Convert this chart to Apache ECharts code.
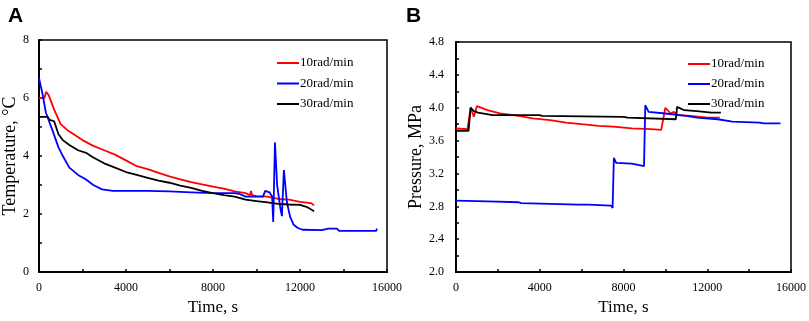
<!DOCTYPE html>
<html>
<head>
<meta charset="utf-8">
<script src="https://cdn.jsdelivr.net/npm/echarts@6/dist/echarts.min.js"></script>
<style>
	body { margin: 0; background: #fff; }
	#chart { width: 809px; height: 321px; }
</style>
</head>
<body>
<div id="chart"></div>
<script>
// panel A - temperature
var aRedTime  = [0, 250, 330, 450, 700, 1000, 1300, 1600, 2000, 2500, 3000, 3500, 4000, 4500, 5000, 5500, 6000, 6500, 7000, 7500, 8000, 8500, 9000, 9500, 9700, 9750, 9800, 10000, 10500, 11000, 11500, 12000, 12500, 12650];
var aRedTemp  = [6.0, 6.0, 6.21, 6.1, 5.6, 5.1, 4.9, 4.75, 4.55, 4.35, 4.2, 4.05, 3.85, 3.65, 3.55, 3.42, 3.3, 3.2, 3.1, 3.02, 2.95, 2.88, 2.78, 2.72, 2.65, 2.8, 2.65, 2.62, 2.6, 2.52, 2.5, 2.42, 2.38, 2.3];
var aBlueTime = [0, 150, 320, 640, 900, 1100, 1400, 1800, 2150, 2500, 2900, 3400, 5000, 6000, 7000, 8000, 9000, 9200, 9500, 10000, 10300, 10400, 10600, 10720, 10770, 10850, 10950, 11100, 11170, 11260, 11400, 11550, 11710, 11900, 12120, 13000, 13300, 13700, 13800, 15500, 15540];
var aBlueTemp = [6.7, 6.2, 5.5, 4.85, 4.3, 4.0, 3.6, 3.35, 3.2, 3.0, 2.85, 2.8, 2.8, 2.78, 2.75, 2.72, 2.72, 2.7, 2.6, 2.6, 2.6, 2.8, 2.75, 2.6, 1.73, 4.47, 3.0, 2.2, 1.93, 3.52, 2.4, 1.9, 1.63, 1.52, 1.46, 1.45, 1.5, 1.5, 1.42, 1.42, 1.5];
var aBlackTime = [0, 400, 500, 700, 900, 1100, 1400, 1800, 2200, 2500, 3000, 3500, 4000, 4500, 5000, 5500, 6000, 6500, 7000, 7500, 8000, 8500, 9000, 9500, 10000, 10500, 11000, 11500, 12000, 12300, 12650];
var aBlackTemp = [5.35, 5.35, 5.25, 5.2, 4.75, 4.55, 4.38, 4.2, 4.1, 3.95, 3.75, 3.6, 3.45, 3.35, 3.25, 3.15, 3.08, 2.98, 2.9, 2.8, 2.72, 2.65, 2.6, 2.5, 2.45, 2.4, 2.35, 2.33, 2.32, 2.25, 2.1];

// panel B - pressure
var bRedTime  = [0, 550, 700, 850, 1000, 1500, 2100, 3000, 3650, 4500, 5250, 6000, 6800, 7500, 8400, 9300, 9800, 10000, 10250, 10400, 10600, 11200, 12000, 12600];
var bRedPres  = [3.75, 3.74, 4.0, 3.89, 4.02, 3.97, 3.93, 3.9, 3.87, 3.85, 3.82, 3.8, 3.78, 3.77, 3.75, 3.74, 3.73, 4.0, 3.93, 3.95, 3.91, 3.9, 3.88, 3.88];
var bBlueTime = [0, 1500, 3000, 3100, 4500, 5800, 6300, 7400, 7480, 7540, 7650, 8400, 8450, 8980, 9040, 9200, 10000, 11000, 11500, 12500, 13200, 14500, 14700, 15500];
var bBluePres = [2.87, 2.86, 2.85, 2.84, 2.83, 2.82, 2.82, 2.81, 2.78, 3.39, 3.33, 3.32, 3.3, 3.29, 4.03, 3.95, 3.93, 3.9, 3.88, 3.86, 3.83, 3.82, 3.81, 3.81];
var bBlackTime = [0, 600, 700, 850, 1050, 1750, 4000, 4100, 8000, 8200, 10500, 10560, 10900, 11500, 12200, 12650];
var bBlackPres = [3.72, 3.72, 4.0, 3.96, 3.94, 3.91, 3.91, 3.9, 3.89, 3.88, 3.86, 4.01, 3.97, 3.96, 3.94, 3.94];

var seriesNames = ['10rad/min', '20rad/min', '30rad/min'];
var seriesColors = ['#ff0000', '#0000ff', '#000000'];
var xTicks = [0, 4000, 8000, 12000, 16000];

var serif = 'Liberation Serif';

function zip(xs, ys) {
	var out = [];
	for (var i = 0; i < xs.length; i++) out.push([xs[i], ys[i]]);
	return out;
}

function mkLine(name, color, idx, data) {
	return {
		name: name,
		type: 'line',
		xAxisIndex: idx,
		yAxisIndex: idx,
		data: data,
		showSymbol: false,
		lineStyle: { color: color, width: 1.8 },
		itemStyle: { color: color },
		animation: false
	};
}

function mkXAxis(idx) {
	return {
		type: 'value',
		gridIndex: idx,
		min: 0,
		max: 16000,
		interval: 2000,
		name: 'Time, s',
		nameLocation: 'middle',
		nameGap: 24,
		nameTextStyle: { fontFamily: serif, fontSize: 17, color: '#000' },
		axisLine: { lineStyle: { color: '#000', width: 2 } },
		axisTick: { inside: true, length: 3, lineStyle: { color: '#000', width: 1.5 } },
		axisLabel: {
			fontFamily: serif, fontSize: 12, color: '#000', margin: 10,
			formatter: function (v) { return xTicks.indexOf(v) >= 0 ? String(v) : ''; }
		},
		splitLine: { show: false }
	};
}

var option = {
	backgroundColor: '#fff',
	title: [
		{ text: 'A', left: 3, top: 1, textStyle: { fontFamily: 'Liberation Sans', fontWeight: 'bold', fontSize: 21, color: '#000' } },
		{ text: 'B', left: 401, top: 1, textStyle: { fontFamily: 'Liberation Sans', fontWeight: 'bold', fontSize: 21, color: '#000' } }
	],
	grid: [
		{ left: 36, top: 40, width: 351, height: 236, show: true, borderColor: '#000', borderWidth: 1.5 },
		{ left: 456, top: 42, width: 338, height: 234, show: true, borderColor: '#000', borderWidth: 1.5 }
	],
	legend: [
		{
			data: seriesNames, orient: 'vertical', left: 272, top: 51,
			icon: 'rect', itemWidth: 22, itemHeight: 2, itemGap: 6.5,
			textStyle: { fontFamily: serif, fontSize: 13, color: '#000', lineHeight: 14, padding: [0, 0, 0, -4] }
		},
		{
			data: seriesNames, orient: 'vertical', left: 683, top: 52,
			icon: 'rect', itemWidth: 22, itemHeight: 2, itemGap: 6,
			textStyle: { fontFamily: serif, fontSize: 13, color: '#000', lineHeight: 14, padding: [0, 0, 0, -4] }
		}
	],
	xAxis: [mkXAxis(0), mkXAxis(1)],
	yAxis: [
		{
			type: 'value', gridIndex: 0, min: 0, max: 8, interval: 1,
			name: 'Temperature, °C', nameLocation: 'middle', nameGap: 17,
			nameTextStyle: { fontFamily: serif, fontSize: 18, color: '#000' },
			axisLine: { show: true, lineStyle: { color: '#000', width: 2 } },
			axisTick: { show: true, inside: true, length: 3, lineStyle: { color: '#000', width: 1.5 } },
			axisLabel: {
				fontFamily: serif, fontSize: 12, color: '#000', margin: 10,
				formatter: function (v) { return v % 2 === 0 ? String(v) : ''; }
			},
			splitLine: { show: false }
		},
		{
			type: 'value', gridIndex: 1, min: 2.0, max: 4.8, interval: 0.2,
			name: 'Pressure, MPa', nameLocation: 'middle', nameGap: 28,
			nameTextStyle: { fontFamily: serif, fontSize: 18, color: '#000' },
			axisLine: { show: true, lineStyle: { color: '#000', width: 2 } },
			axisTick: { show: true, inside: true, length: 3, lineStyle: { color: '#000', width: 1.5 } },
			axisLabel: {
				fontFamily: serif, fontSize: 12, color: '#000', margin: 12,
				formatter: function (v) { return Math.round(v * 10) % 4 === 0 ? v.toFixed(1) : ''; }
			},
			splitLine: { show: false }
		}
	],
	series: [
		mkLine(seriesNames[0], seriesColors[0], 0, zip(aRedTime, aRedTemp)),
		mkLine(seriesNames[1], seriesColors[1], 0, zip(aBlueTime, aBlueTemp)),
		mkLine(seriesNames[2], seriesColors[2], 0, zip(aBlackTime, aBlackTemp)),
		mkLine(seriesNames[0], seriesColors[0], 1, zip(bRedTime, bRedPres)),
		mkLine(seriesNames[1], seriesColors[1], 1, zip(bBlueTime, bBluePres)),
		mkLine(seriesNames[2], seriesColors[2], 1, zip(bBlackTime, bBlackPres))
	]
};

var chart = echarts.init(document.getElementById('chart'));
chart.setOption(option);
window.addEventListener('resize', function () { chart.resize(); });
</script>
</body>
</html>
